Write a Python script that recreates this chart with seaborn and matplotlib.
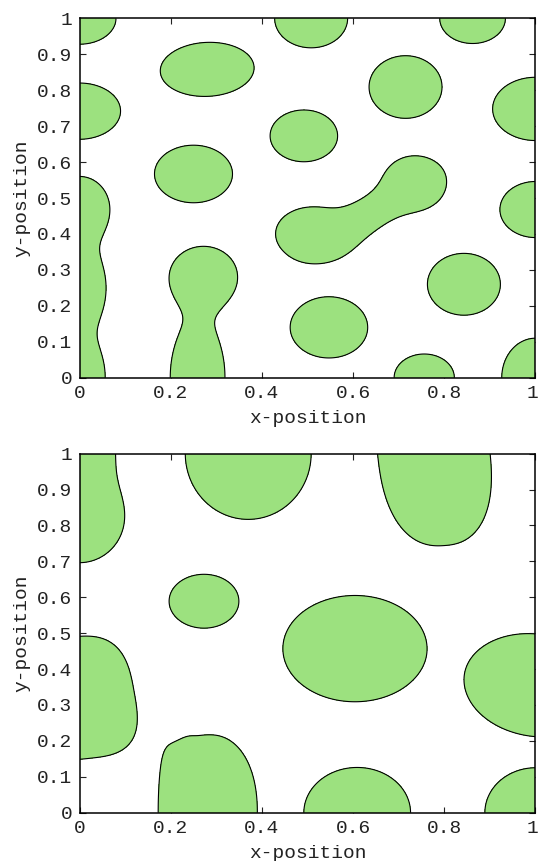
import numpy as np
import matplotlib
matplotlib.use("Agg")
import matplotlib.pyplot as plt
import seaborn as sns
from matplotlib.transforms import ScaledTranslation

# Blob outlines: centre, semi-axes, tilt (deg),
# superellipse power and blending sharpness
# --- top panel ---
top_cx = [0.000, 0.280, 0.000, 0.250,
          0.000, 0.000, 0.000,
          0.272, 0.259,
          0.508, 0.862, 0.492, 0.715, 1.000,
          0.515, 0.635, 0.735,
          1.000, 0.843, 0.547, 0.756, 1.000]
top_cy = [1.000, 0.858, 0.742, 0.567,
          0.470, 0.250, 0.000,
          0.280, 0.000,
          1.000, 1.000, 0.673, 0.809, 0.748,
          0.398, 0.455, 0.542,
          0.468, 0.260, 0.140, 0.000, 0.000]
top_rx = [0.080, 0.103, 0.090, 0.0855,
          0.066, 0.058, 0.056,
          0.074, 0.060,
          0.080, 0.072, 0.074, 0.080, 0.094,
          0.085, 0.110, 0.068,
          0.078, 0.080, 0.085, 0.066, 0.074]
top_ry = [0.072, 0.075, 0.078, 0.080,
          0.090, 0.115, 0.110,
          0.085, 0.160,
          0.082, 0.070, 0.072, 0.087, 0.088,
          0.077, 0.040, 0.075,
          0.078, 0.086, 0.085, 0.066, 0.110]
top_rot = [0, 5, 0, 0,
           0, 0, 0,
           0, 0,
           0, 0, 0, 0, 0,
           -10, 39, 0,
           0, 0, 0, 0, 0]
top_pow = [2] * len(top_cx)
top_soft = [2, 2, 2, 2,
            1, 1, 1,
            1, 1,
            2, 2, 2, 2, 2,
            1, 1, 1,
            2, 2, 2, 2, 2]

# --- bottom panel ---
bot_cx = [0.000, 0.000, 0.370, 0.777, 0.273,
          0.000, 0.215, 0.285, 0.604, 1.000, 0.609, 1.000]
bot_cy = [0.820, 1.020, 1.000, 1.000, 0.589,
          0.320, 0.000, 0.000, 0.457, 0.355, 0.000, 0.000]
bot_rx = [0.096, 0.078, 0.138, 0.123, 0.0765,
          0.121, 0.035, 0.105, 0.158, 0.160, 0.117, 0.111]
bot_ry = [0.120, 0.200, 0.183, 0.257, 0.075,
          0.170, 0.175, 0.217, 0.148, 0.140, 0.126, 0.125]
bot_rot = [0, 0, 0, 5, 0,
           8, 0, 0, 0, -25, 0, 0]
bot_pow = [2, 2, 2, 2.4, 2,
           3, 4, 2.2, 2, 2, 2, 2]
bot_soft = [1.5, 1.5, 3, 3, 3,
            3, 2.5, 2.5, 3, 3, 3, 3]

x_ticks = [0, 0.2, 0.4, 0.6, 0.8, 1]
x_labels = ['0', '0.2', '0.4', '0.6', '0.8', '1']
y_ticks = [0, 0.1, 0.2, 0.3, 0.4, 0.5, 0.6, 0.7, 0.8, 0.9, 1]
y_labels = ['0', '0.1', '0.2', '0.3', '0.4', '0.5', '0.6', '0.7', '0.8', '0.9', '1']

GREEN = '#9ce17f'


def phase_field(cx, cy, rx, ry, rot, pw, soft, n=700):
    g = np.linspace(0, 1, n)
    X, Y = np.meshgrid(g, g)
    F = np.zeros_like(X)
    for x0, y0, a, b, t, p, s in zip(cx, cy, rx, ry, rot, pw, soft):
        th = np.deg2rad(t)
        u = (X - x0) * np.cos(th) + (Y - y0) * np.sin(th)
        v = -(X - x0) * np.sin(th) + (Y - y0) * np.cos(th)
        r = (np.abs(u / a) ** p + np.abs(v / b) ** p) ** (2.0 / p)
        F += np.exp(-s * (r - 1.0))
    return X, Y, F


sns.set_theme(style="ticks")
plt.rcParams['font.family'] = ['Liberation Mono', 'DejaVu Sans']
plt.rcParams['axes.edgecolor'] = 'black'
plt.rcParams['axes.linewidth'] = 1.1

fig = plt.figure(figsize=(5.39, 8.61), dpi=100)
ax1 = fig.add_axes([0.1475, 0.5613, 0.846, 0.4174])
ax2 = fig.add_axes([0.1475, 0.0561, 0.846, 0.4170])

panels = [(ax1, (top_cx, top_cy, top_rx, top_ry, top_rot, top_pow, top_soft)),
          (ax2, (bot_cx, bot_cy, bot_rx, bot_ry, bot_rot, bot_pow, bot_soft))]

for ax, blobs in panels:
    X, Y, F = phase_field(*blobs)
    ax.contourf(X, Y, F, levels=[1.0, F.max() + 1], colors=[GREEN])
    ax.contour(X, Y, F, levels=[1.0], colors='black', linewidths=0.8)
    ax.set_xlim(0, 1)
    ax.set_ylim(0, 1)
    ax.set_xticks(x_ticks)
    ax.set_xticklabels(x_labels)
    ax.set_yticks(y_ticks)
    ax.set_yticklabels(y_labels)
    ax.tick_params(direction='in', length=4, width=0.8, top=True, right=True,
                   labelsize=14, pad=5, colors='#222222')
    ax.set_xlabel('x-position', fontsize=14, labelpad=6, color='#222222')
    ax.set_ylabel('y-position', fontsize=14, labelpad=5, color='#222222')
    for s in ax.spines.values():
        s.set_color('black')
    # keep the last x tick label inside the figure
    last = ax.get_xticklabels()[-1]
    last.set_transform(last.get_transform() + ScaledTranslation(-3 / 100, 0, fig.dpi_scale_trans))

fig.savefig('out.png', dpi=100)
